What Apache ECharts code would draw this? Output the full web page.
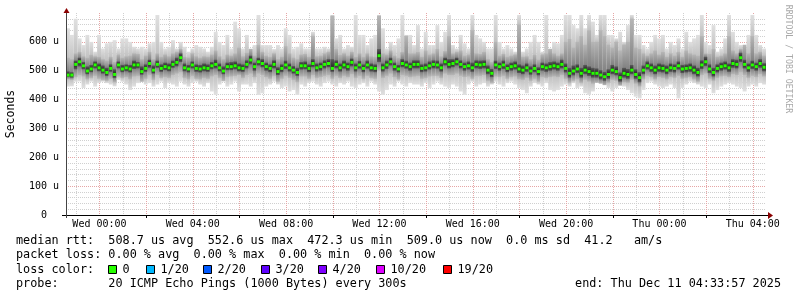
<!DOCTYPE html>
<html><head><meta charset="utf-8">
<script src="https://cdn.jsdelivr.net/npm/echarts@6/dist/echarts.min.js"></script>
<style>html,body{margin:0;padding:0;background:#fff}#c{width:797px;height:297px}</style>
</head><body><div id="c"></div>
<script>
// time axis in hours relative to Wed 00:00
const startHour = -1.4342;
const endHour = 28.5658;
const sampleHours = 10 / 60;

// median rtt (microseconds), one value per 10-minute sample
const median = [
485,485,522,531,517,499,506,520,510,502,494,508,487,520,506,510,506,520,520,497,
508,525,502,522,508,514,510,522,529,545,510,506,520,508,506,510,508,517,522,510,
499,514,514,517,510,508,
522,537,514,531,525,514,508,522,497,508,520,510,502,494,517,517,508,525,510,514,
522,525,508,522,510,520,514,529,510,520,508,520,510,508,552,510,520,531,514,506,
525,520,514,522,
522,508,510,517,522,520,510,531,522,525,531,522,514,517,510,522,520,522,502,491,
520,514,520,508,514,517,506,502,510,499,508,497,514,510,514,517,514,522,508,491,
499,506,491,502,497,491,
491,485,479,487,502,497,476,491,487,502,487,476,502,517,510,502,510,508,502,510,
508,517,506,508,510,502,494,520,531,506,494,508,514,517,510,525,522,545,522,510,
520,514,525,512
];
// lightest smoke (min..max ping)
const lightLo = [
445,446,462,463,440,452,462,445,457,462,457,452,446,468,462,452,433,445,457,462,
452,457,445,452,462,440,457,452,445,462,452,445,457,462,452,445,457,428,416,452,
462,445,452,462,428,452,
452,445,457,416,422,445,452,462,452,440,445,428,433,416,452,445,457,462,452,445,
457,462,452,445,457,452,462,445,440,452,457,445,462,452,428,416,433,452,445,462,
452,445,457,452,
452,445,457,440,452,462,452,445,440,452,445,428,416,452,462,445,452,457,445,452,
462,452,445,457,462,452,440,433,422,445,457,452,445,457,433,428,433,445,452,445,
457,440,445,422,416,428,
462,457,452,440,428,440,452,445,433,422,410,404,433,457,462,452,445,440,445,452,
440,404,440,452,462,457,452,445,440,452,422,433,445,452,457,452,445,440,428,445,
452,445,457,452
];
const lightHi = [
647,624,680,612,589,624,600,566,624,577,595,600,606,577,612,612,600,583,577,583,
577,595,600,693,600,577,583,606,577,600,583,566,577,589,583,577,566,583,635,600,
589,624,577,670,647,577,
624,577,589,693,589,589,589,575,589,577,647,624,577,583,595,577,577,635,577,577,
583,577,693,612,624,577,589,583,693,624,624,589,612,624,693,647,577,600,589,612,
693,624,624,589,
658,577,635,589,589,658,600,635,693,589,577,624,595,577,693,624,612,600,577,577,
693,600,577,589,577,566,693,566,577,600,624,600,566,693,577,600,595,624,693,693,
658,647,693,647,693,670,
624,693,693,624,624,612,635,600,658,693,624,624,589,577,600,624,612,624,577,600,
589,612,577,635,600,612,624,693,600,589,658,566,577,612,693,635,600,589,577,624,
693,624,589,577
];
// middle smoke band
const midLo = [
470,468,478,485,480,470,475,482,472,468,465,472,460,480,475,478,470,480,482,462,
472,485,468,485,475,478,475,485,490,495,475,470,482,472,470,475,472,480,485,475,
465,478,480,482,485,475,
485,490,478,490,485,478,472,482,462,472,482,475,468,460,480,480,472,485,475,478,
482,485,472,482,475,482,478,488,475,482,472,482,475,472,500,475,482,490,478,470,
485,482,478,480,
482,472,475,480,482,482,475,490,485,485,490,482,478,480,472,482,482,485,465,458,
480,478,482,472,478,480,470,468,475,465,472,462,478,475,478,480,478,485,472,458,
465,470,458,468,462,455,
458,455,450,458,468,465,448,460,458,468,455,445,470,482,478,470,478,475,470,478,
475,482,472,475,478,470,462,485,490,472,465,475,480,482,478,488,485,495,485,475,
482,478,488,480
];
const midHi = [
545,540,560,565,550,545,555,550,548,540,535,548,530,556,545,550,552,560,558,540,
552,565,540,560,548,556,550,560,565,575,548,545,560,550,545,550,548,556,570,550,
540,556,552,560,580,550,
562,575,552,590,565,552,548,560,540,548,585,560,545,540,556,558,548,620,550,552,
560,565,690,575,555,560,552,565,548,560,548,560,550,548,690,560,556,570,552,545,
565,620,560,560,
565,548,570,556,560,575,550,568,620,560,565,570,552,556,640,560,558,565,540,530,
600,552,558,548,552,556,660,548,550,540,555,538,556,560,575,560,552,560,600,610,
580,600,620,590,640,600,
600,640,620,590,580,600,570,590,600,680,580,575,560,552,560,570,556,565,548,560,
552,565,548,570,560,556,552,620,560,558,575,548,552,560,620,570,560,575,590,560,
620,560,565,552
];
// dark core around the median
const darkLo = [
478,476,505,515,505,488,495,508,498,490,482,496,475,508,495,498,494,506,508,486,
496,510,490,510,496,502,498,510,515,530,498,494,508,496,494,498,496,505,508,498,
488,502,502,505,498,496,
508,522,500,518,512,500,495,508,485,495,506,497,490,482,504,505,495,512,497,500,
508,512,496,508,497,507,500,515,497,507,495,507,497,495,530,497,506,518,500,494,
512,507,500,508,
508,495,497,504,508,507,497,518,508,512,518,508,500,504,496,508,506,508,488,478,
506,500,506,495,500,504,492,488,496,486,495,484,500,496,500,504,500,508,494,476,
484,492,476,488,482,476,
476,470,465,472,488,484,462,476,472,488,472,460,488,504,496,488,496,494,488,496,
494,504,492,494,496,488,480,506,516,492,480,494,500,504,496,510,508,530,508,496,
506,500,510,498
];
const darkHi = [
498,495,535,545,530,515,520,532,525,518,510,522,505,532,520,522,520,535,530,515,
522,538,518,535,522,528,525,535,545,560,525,520,532,522,520,525,522,530,538,525,
515,528,530,532,525,522,
536,552,528,545,540,528,522,536,512,522,535,525,516,510,530,532,522,540,525,528,
536,540,540,536,525,535,528,542,525,534,522,535,525,522,575,525,535,545,528,520,
540,535,528,536,
536,522,525,532,536,535,525,545,540,540,545,536,528,532,528,536,535,536,518,506,
535,528,535,522,528,532,522,518,525,515,522,512,528,525,530,532,528,538,525,510,
518,522,510,520,515,510,
508,502,496,505,520,515,494,510,506,520,505,495,518,532,525,518,525,522,518,525,
522,532,520,522,525,518,510,536,548,522,510,522,528,532,525,540,538,562,538,525,
535,528,540,526
];

// axis ticks and labels
const xLabelHours = [0, 4, 8, 12, 16, 20, 24, 28];
const xLabelTexts = ['Wed 00:00', 'Wed 04:00', 'Wed 08:00', 'Wed 12:00', 'Wed 16:00', 'Wed 20:00', 'Thu 00:00', 'Thu 04:00'];
const xMajorHours = [0, 2, 4, 6, 8, 10, 12, 14, 16, 18, 20, 22, 24, 26, 28];
const xMinorHours = [-1, 1, 3, 5, 7, 9, 11, 13, 15, 17, 19, 21, 23, 25, 27];
const xTickHours = [2, 6, 10, 14, 18, 22, 26];
const yLabelValues = [0, 100, 200, 300, 400, 500, 600];
const yLabelTexts = ['0  ', '100 u', '200 u', '300 u', '400 u', '500 u', '600 u'];

// legend text
const statLines = [
  'median rtt:  508.7 us avg  552.6 us max  472.3 us min  509.0 us now  0.0 ms sd  41.2   am/s',
  'packet loss: 0.00 % avg  0.00 % max  0.00 % min  0.00 % now'
];
const lossLabels = ['0', '1/20', '2/20', '3/20', '4/20', '10/20', '19/20'];
const lossColors = ['#26ff00', '#00b8ff', '#0059ff', '#5e00ff', '#7e00ff', '#dd00ff', '#ff0000'];
const probeText = 'probe:       20 ICMP Echo Pings (1000 Bytes) every 300s';
const endText = 'end: Thu Dec 11 04:33:57 2025';
const creditText = 'RRDTOOL / TOBI OETIKER';

const MONO = '"DejaVu Sans Mono", "Liberation Mono", monospace';
const FS = 11.8;

const smokeRows = median.map((m, i) => [startHour + (i + 0.5) * sampleHours,
  lightLo[i], lightHi[i], midLo[i], midHi[i], darkLo[i], darkHi[i], m]);
const medianRows = median.map((m, i) => [startHour + (i + 0.5) * sampleHours, m]);

function smokeItem(params, api) {
  const t = api.value(0);
  const x0 = api.coord([t - sampleHours / 2, 0])[0];
  const w = api.size([sampleHours, 0])[0];
  const yOf = v => api.coord([t, v])[1];
  const band = (lo, hi, edge, inner, innerHi, innerLo) => {
    const yh = yOf(hi), yl = yOf(lo), h = Math.max(yl - yh, 0.5);
    const f = y => Math.min(1, Math.max(0, (y - yh) / h));
    const a = f(yOf(innerHi)), b = f(yOf(innerLo));
    const fill = new echarts.graphic.LinearGradient(0, 0, 0, 1, [
      { offset: 0, color: edge }, { offset: a, color: inner },
      { offset: Math.max(a, b), color: inner }, { offset: 1, color: edge }]);
    return { type: 'rect', shape: { x: x0, y: yh, width: w, height: h }, style: { fill } };
  };
  const med = api.value(7);
  return { type: 'group', children: [
    band(api.value(1), api.value(2), '#e0e0e0', '#c2c2c2', api.value(4), api.value(3)),
    band(api.value(3), api.value(4), '#b6b6b6', '#828282', api.value(6), api.value(5)),
    band(api.value(5), api.value(6), '#5c5c5c', '#242424', med + 2, med - 2)
  ] };
}
function medianItem(params, api) {
  const t = api.value(0);
  const x0 = api.coord([t - sampleHours / 2, 0])[0];
  const w = api.size([sampleHours, 0])[0];
  const y = api.coord([t, api.value(1)])[1];
  return { type: 'rect', shape: { x: x0 + 0.4, y: y - 1.5, width: w - 0.8, height: 3 }, style: { fill: lossColors[0] } };
}

const graphics = [];
const txt = (x, y, s, align) => ({ type: 'text', x, y,
  style: { text: s, font: FS + 'px ' + MONO, fill: '#000', align, verticalAlign: 'middle', textAlign: align, textVerticalAlign: 'middle' } });
statLines.forEach((s, k) => graphics.push(txt(16, 241.2 + k * 14.2, s, 'left')));
graphics.push(txt(16, 269.6, 'loss color:', 'left'));
const boxX = [108, 146, 203, 261, 318, 376, 443];
lossLabels.forEach((lab, k) => {
  graphics.push({ type: 'rect', shape: { x: boxX[k] + 0.5, y: 265.5, width: 8, height: 8 }, style: { fill: lossColors[k], stroke: '#000', lineWidth: 1 } });
  graphics.push(txt(boxX[k] + 14.5, 269.6, lab, 'left'));
});
graphics.push(txt(16, 283.6, probeText, 'left'));
graphics.push(txt(781, 283.6, endText, 'right'));
graphics.push({ type: 'text', x: 788, y: 59, rotation: -Math.PI / 2, style: { text: creditText, font: '8.2px ' + MONO, fill: '#a8a8a8', align: 'center', verticalAlign: 'middle', textAlign: 'center', textVerticalAlign: 'middle' } });
// axis lines and arrows
graphics.push({ type: 'line', shape: { x1: 62, y1: 215.5, x2: 768, y2: 215.5 }, style: { stroke: '#000', lineWidth: 1 }, z: 10 });
graphics.push({ type: 'line', shape: { x1: 66.5, y1: 218, x2: 66.5, y2: 12 }, style: { stroke: '#444', lineWidth: 1 }, z: 10 });
graphics.push({ type: 'polygon', shape: { points: [[768, 212], [768, 219], [773, 215.5]] }, style: { fill: '#8b0000' }, z: 10 });
graphics.push({ type: 'polygon', shape: { points: [[63.5, 13], [69.5, 13], [66.5, 8]] }, style: { fill: '#8b0000' }, z: 10 });

const redGrid = '#e6a6a6';
const grayGrid = '#d0d0d0';

const option = {
  animation: false,
  backgroundColor: '#ffffff',
  grid: { left: 66, top: 13, width: 700, height: 202, containLabel: false, outerBoundsMode: 'none' },
  xAxis: [
    { type: 'value', min: startHour, max: endHour, position: 'bottom',
      axisLine: { show: false },
      axisTick: { show: false, customValues: xMajorHours },
      axisLabel: { customValues: xLabelHours, fontFamily: MONO, fontSize: 10, color: '#000', margin: 4,
        formatter: v => { const k = xLabelHours.indexOf(Math.round(v)); return k >= 0 ? xLabelTexts[k] : ''; } },
      splitLine: { show: true, lineStyle: { color: redGrid, width: 1, type: [1, 1] } } },
    { type: 'value', min: startHour, max: endHour, position: 'bottom', offset: 0,
      axisLine: { show: false }, axisLabel: { show: false },
      axisTick: { show: false, customValues: xMinorHours },
      splitLine: { show: true, lineStyle: { color: grayGrid, width: 1, type: [1, 1] } } },
    { type: 'value', min: startHour, max: endHour, position: 'bottom', offset: 0,
      axisLine: { show: false }, axisLabel: { show: false },
      axisTick: { show: true, customValues: xTickHours, length: 3, lineStyle: { color: '#000' } },
      splitLine: { show: false } }
  ],
  yAxis: {
    type: 'value', min: 0, max: 700, interval: 100,
    name: 'Seconds', nameLocation: 'middle', nameGap: 49,
    nameTextStyle: { fontFamily: MONO, fontSize: 11.5, color: '#000' },
    axisLine: { show: false }, axisTick: { show: false },
    axisLabel: { fontFamily: MONO, fontSize: 10, color: '#000', margin: 7,
      formatter: v => { const k = yLabelValues.indexOf(v); return k >= 0 ? yLabelTexts[k] : ''; } },
    splitLine: { show: true, lineStyle: { color: [redGrid, redGrid, redGrid, redGrid, redGrid, redGrid, redGrid, 'rgba(0,0,0,0)'], width: 1, type: [1, 1] } },
    minorTick: { show: false, splitNumber: 5 },
    minorSplitLine: { show: true, lineStyle: { color: grayGrid, width: 1, type: [1, 1] } }
  },
  series: [
    { type: 'custom', name: 'smoke', xAxisIndex: 0, yAxisIndex: 0, clip: true, renderItem: smokeItem,
      encode: { x: 0, y: [1, 2] }, data: smokeRows, silent: true },
    { type: 'custom', name: 'median rtt', xAxisIndex: 0, yAxisIndex: 0, clip: true, renderItem: medianItem,
      encode: { x: 0, y: 1 }, data: medianRows, silent: true }
  ],
  graphic: graphics
};
const chart = echarts.init(document.getElementById('c'), null, { renderer: 'canvas', width: 797, height: 297 });
chart.setOption(option);
</script></body></html>
